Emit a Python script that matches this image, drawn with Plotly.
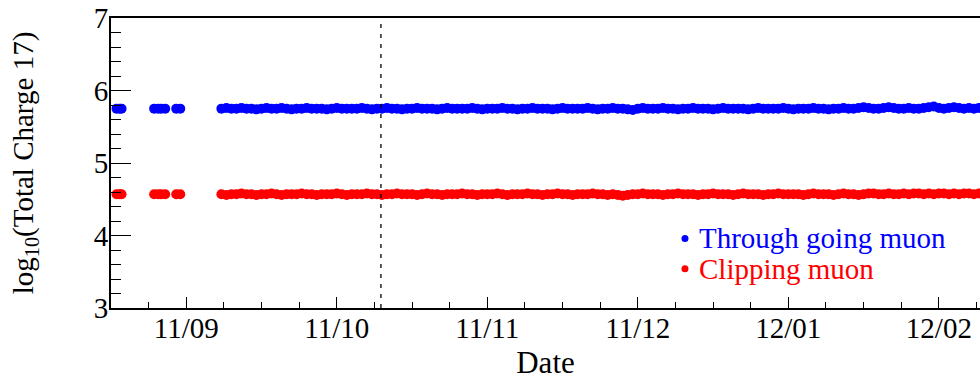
import plotly.graph_objects as go

# Time axis in days, 0 = first labelled tick; ticks every 30 days
tick_days = [0, 30, 60, 90, 120, 150]
tick_labels = ["11/09", "11/10", "11/11", "11/12", "12/01", "12/02"]
x_range = [-15, 158.2]
cut_day = 38.8  # dashed marker line

# Early short runs
early_days = [-13.9, -13.3, -12.9, -6.4, -5.6, -5.0, -4.2, -2.0, -1.2]
early_through = [5.75, 5.75, 5.75, 5.75, 5.75, 5.75, 5.75, 5.75, 5.75]
early_clip = [4.57, 4.57, 4.57, 4.57, 4.57, 4.57, 4.57, 4.57, 4.57]

# Continuous running period (one point per day)
run_days = [
    7, 8, 9, 10, 11, 12, 13, 14, 15, 16,
    17, 18, 19, 20, 21, 22, 23, 24, 25, 26,
    27, 28, 29, 30, 31, 32, 33, 34, 35, 36,
    37, 38, 39, 40, 41, 42, 43, 44, 45, 46,
    47, 48, 49, 50, 51, 52, 53, 54, 55, 56,
    57, 58, 59, 60, 61, 62, 63, 64, 65, 66,
    67, 68, 69, 70, 71, 72, 73, 74, 75, 76,
    77, 78, 79, 80, 81, 82, 83, 84, 85, 86,
    87, 88, 89, 90, 91, 92, 93, 94, 95, 96,
    97, 98, 99, 100, 101, 102, 103, 104, 105, 106,
    107, 108, 109, 110, 111, 112, 113, 114, 115, 116,
    117, 118, 119, 120, 121, 122, 123, 124, 125, 126,
    127, 128, 129, 130, 131, 132, 133, 134, 135, 136,
    137, 138, 139, 140, 141, 142, 143, 144, 145, 146,
    147, 148, 149, 150, 151, 152, 153, 154, 155, 156,
    157, 158,
]
run_through = [
    5.75, 5.76, 5.75, 5.75, 5.76, 5.75, 5.75, 5.74, 5.75, 5.76,
    5.75, 5.75, 5.76, 5.75, 5.74, 5.75, 5.75, 5.76, 5.75, 5.75,
    5.75, 5.74, 5.75, 5.76, 5.75, 5.75, 5.75, 5.75, 5.76, 5.75,
    5.74, 5.75, 5.75, 5.76, 5.75, 5.75, 5.74, 5.75, 5.75, 5.76,
    5.75, 5.75, 5.75, 5.74, 5.75, 5.76, 5.75, 5.75, 5.75, 5.75,
    5.76, 5.75, 5.74, 5.75, 5.75, 5.75, 5.76, 5.75, 5.75, 5.74,
    5.75, 5.75, 5.76, 5.75, 5.75, 5.75, 5.74, 5.75, 5.76, 5.75,
    5.75, 5.75, 5.75, 5.76, 5.75, 5.74, 5.75, 5.75, 5.76, 5.75,
    5.75, 5.74, 5.73, 5.75, 5.76, 5.75, 5.75, 5.75, 5.76, 5.75,
    5.75, 5.74, 5.75, 5.75, 5.76, 5.75, 5.75, 5.75, 5.74, 5.75,
    5.76, 5.75, 5.75, 5.75, 5.75, 5.74, 5.75, 5.76, 5.75, 5.75,
    5.75, 5.75, 5.76, 5.75, 5.74, 5.75, 5.75, 5.75, 5.76, 5.75,
    5.75, 5.74, 5.75, 5.75, 5.76, 5.75, 5.75, 5.76, 5.77, 5.76,
    5.75, 5.75, 5.76, 5.77, 5.76, 5.75, 5.75, 5.76, 5.75, 5.75,
    5.76, 5.77, 5.78, 5.76, 5.75, 5.76, 5.77, 5.76, 5.75, 5.76,
    5.75, 5.76,
]
run_clip = [
    4.57, 4.56, 4.57, 4.57, 4.58, 4.57, 4.57, 4.56, 4.57, 4.57,
    4.58, 4.57, 4.56, 4.57, 4.57, 4.57, 4.58, 4.57, 4.57, 4.56,
    4.57, 4.57, 4.57, 4.58, 4.57, 4.56, 4.57, 4.57, 4.57, 4.58,
    4.57, 4.57, 4.56, 4.57, 4.57, 4.58, 4.57, 4.57, 4.57, 4.56,
    4.57, 4.58, 4.57, 4.57, 4.56, 4.57, 4.57, 4.57, 4.58, 4.57,
    4.57, 4.56, 4.57, 4.57, 4.57, 4.58, 4.57, 4.56, 4.57, 4.57,
    4.57, 4.58, 4.57, 4.57, 4.56, 4.57, 4.57, 4.58, 4.57, 4.57,
    4.56, 4.57, 4.57, 4.57, 4.58, 4.57, 4.57, 4.56, 4.57, 4.56,
    4.55, 4.56, 4.57, 4.57, 4.58, 4.57, 4.57, 4.57, 4.56, 4.57,
    4.57, 4.58, 4.57, 4.57, 4.57, 4.56, 4.57, 4.57, 4.58, 4.57,
    4.57, 4.57, 4.56, 4.57, 4.58, 4.57, 4.57, 4.57, 4.56, 4.57,
    4.57, 4.58, 4.57, 4.57, 4.57, 4.57, 4.56, 4.57, 4.58, 4.57,
    4.57, 4.57, 4.56, 4.57, 4.58, 4.57, 4.57, 4.56, 4.57, 4.58,
    4.58, 4.57, 4.57, 4.58, 4.57, 4.57, 4.58, 4.57, 4.58, 4.58,
    4.57, 4.58, 4.57, 4.58, 4.58, 4.57, 4.58, 4.57, 4.58, 4.58,
    4.57, 4.58,
]

series_names = ["Through going muon", "Clipping muon"]
series_colors = ["#0000ff", "#ff0000"]

FONT = "Liberation Serif, Times New Roman, serif"

fig = go.Figure()
for ys_early, ys_run, color in [
    (early_through, run_through, series_colors[0]),
    (early_clip, run_clip, series_colors[1]),
]:
    fig.add_trace(go.Scatter(
        x=early_days + run_days,
        y=ys_early + ys_run,
        mode="markers",
        marker=dict(color=color, size=10, line=dict(width=0)),
        showlegend=False,
        cliponaxis=True,
    ))

# Dashed vertical marker
fig.add_shape(type="line", xref="x", yref="paper", x0=cut_day, x1=cut_day,
              y0=0, y1=1, line=dict(color="black", width=1.3, dash="4px,6px"))

# Legend: small dot + coloured label
legend_x_dot = 0.6605
legend_x_text = 0.674
legend_rows_y = [0.240, 0.135]
for name, color, yy in zip(series_names, series_colors, legend_rows_y):
    fig.add_shape(type="circle", xref="paper", yref="paper",
                  xsizemode="pixel", ysizemode="pixel",
                  xanchor=legend_x_dot, yanchor=yy,
                  x0=-3.5, x1=3.5, y0=-3.5, y1=3.5,
                  fillcolor=color, line=dict(width=0))
    fig.add_annotation(xref="paper", yref="paper", x=legend_x_text, y=yy,
                       xanchor="left", yanchor="middle", showarrow=False,
                       text=name, font=dict(family=FONT, size=29, color=color))

fig.update_layout(
    width=980, height=380,
    margin=dict(l=111, r=0, t=18, b=72),
    plot_bgcolor="white", paper_bgcolor="white",
    font=dict(family=FONT, color="black"),
    showlegend=False,
    xaxis=dict(
        range=x_range,
        tickmode="array", tickvals=tick_days, ticktext=tick_labels,
        ticks="inside", ticklen=11, tickwidth=1, tickcolor="black",
        minor=dict(tickmode="linear", tick0=0, dtick=7.5, ticks="inside",
                   ticklen=6, tickwidth=1, tickcolor="black", showgrid=False),
        showline=True, linecolor="black", linewidth=2, mirror=True,
        showgrid=False, zeroline=False,
        tickfont=dict(family=FONT, size=29),
        ticklabelstandoff=-7,
        title=dict(text="Date", font=dict(family=FONT, size=31), standoff=12),
    ),
    yaxis=dict(
        range=[3, 7],
        tickmode="linear", tick0=3, dtick=1,
        ticks="inside", ticklen=20, tickwidth=1, tickcolor="black",
        minor=dict(tickmode="linear", tick0=3, dtick=0.2, ticks="inside",
                   ticklen=10, tickwidth=1, tickcolor="black", showgrid=False),
        showline=True, linecolor="black", linewidth=2,
        showgrid=False, zeroline=False,
        tickfont=dict(family=FONT, size=29),
        ticklabelstandoff=-5,
        title=dict(text="log<sub>10</sub>(Total Charge 17)",
                   font=dict(family=FONT, size=29), standoff=52),
    ),
)

fig.write_html("out.html")
